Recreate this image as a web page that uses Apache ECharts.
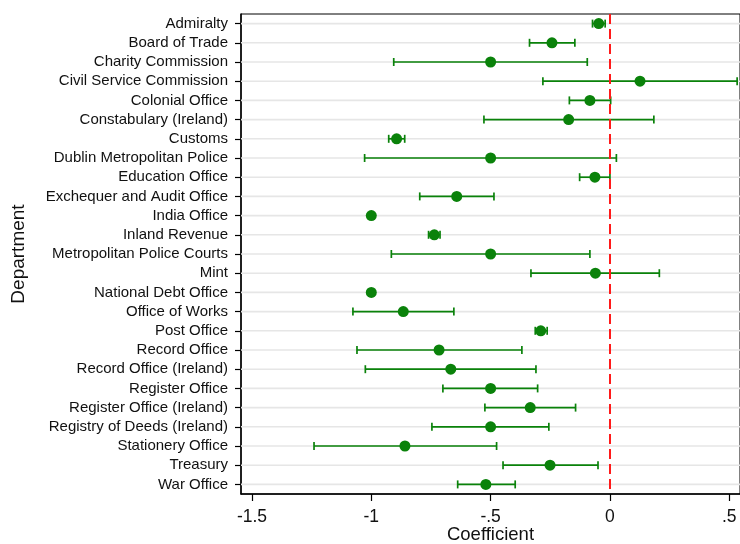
<!DOCTYPE html>
<html>
<head>
<meta charset="utf-8">
<script src="https://cdn.jsdelivr.net/npm/echarts@6/dist/echarts.min.js"></script>
<style>html,body{margin:0;padding:0;background:#fff;}#c{width:740px;height:544px;}</style>
</head>
<body>
<div id="c"></div>
<script>
const departments = ["Admiralty","Board of Trade","Charity Commission","Civil Service Commission","Colonial Office","Constabulary (Ireland)","Customs","Dublin Metropolitan Police","Education Office","Exchequer and Audit Office","India Office","Inland Revenue","Metropolitan Police Courts","Mint","National Debt Office","Office of Works","Post Office","Record Office","Record Office (Ireland)","Register Office","Register Office (Ireland)","Registry of Deeds (Ireland)","Stationery Office","Treasury","War Office"];
const coef   = [-0.047,-0.243,-0.500, 0.126,-0.084,-0.173,-0.894,-0.500,-0.063,-0.642,-1.000,-0.736,-0.500,-0.061,-1.000,-0.866,-0.290,-0.716,-0.667,-0.500,-0.334,-0.500,-0.859,-0.251,-0.520];
const ciLow  = [-0.073,-0.337,-0.906,-0.281,-0.170,-0.528,-0.927,-1.028,-0.127,-0.797, null,-0.760,-0.916,-0.331, null,-1.077,-0.313,-1.060,-1.025,-0.700,-0.524,-0.746,-1.240,-0.448,-0.638];
const ciHigh = [-0.020,-0.147,-0.095, 0.533, 0.003, 0.184,-0.860, 0.027, 0.000,-0.486, null,-0.712,-0.084, 0.207, null,-0.654,-0.263,-0.369,-0.310,-0.303,-0.144,-0.256,-0.475,-0.050,-0.397];
const xTicks = [-1.5,-1,-0.5,0,0.5];

const FONT = '"Liberation Sans", Arial, Helvetica, sans-serif';
const GREEN = '#0a820a';

const chart = echarts.init(document.getElementById('c'), null, {renderer:'canvas'});

const gridData = departments.map((d,i)=>[0,i]);
const ciData = departments.map((d,i)=>[ciLow[i], ciHigh[i], i]);
const dotData = departments.map((d,i)=>[coef[i], i]);

chart.setOption({
  animation:false,
  backgroundColor:'#fff',
  textStyle:{fontFamily:FONT},
  grid:{left:241, top:14, right:0, bottom:50, containLabel:false, outerBoundsMode:'none',
        show:true, borderColor:'#000', borderWidth:1},
  xAxis:{
    type:'value', min:-1.546, max:0.545,
    name:'Coefficient', nameLocation:'middle', nameGap:31, nameMoveOverlap:false,
    nameTextStyle:{fontSize:18.5, color:'#111', fontFamily:FONT},
    axisLine:{show:true, onZero:false, lineStyle:{color:'#000', width:1.5}},
    axisTick:{show:true, length:7, customValues:xTicks, lineStyle:{color:'#000', width:1.2}},
    axisLabel:{customValues:xTicks, fontSize:17.5, color:'#111', margin:14, fontFamily:FONT,
      formatter:v=>{ if (Math.abs(v)<1e-9) return '0'; let s=String(Math.round(v*10)/10); return s.replace('0.','.'); }},
    splitLine:{show:false}
  },
  yAxis:{
    type:'category', data:departments, inverse:true,
    name:'Department', nameLocation:'middle', nameGap:213, nameRotate:90, nameMoveOverlap:false,
    nameTextStyle:{fontSize:19, color:'#111', fontFamily:FONT},
    axisLine:{show:true, onZero:false, lineStyle:{color:'#000', width:1.5}},
    axisTick:{show:true, alignWithLabel:true, interval:0, length:6, lineStyle:{color:'#000', width:1.2}},
    axisLabel:{fontSize:15, color:'#111', margin:13, interval:0, fontFamily:FONT},
    splitLine:{show:false}
  },
  series:[
    {
      type:'custom', z:1, silent:true,
      data:gridData,
      renderItem:(params, api)=>{
        const cs = params.coordSys;
        const y = api.coord([0, api.value(1)])[1];
        return {type:'line', shape:{x1:cs.x, y1:y, x2:cs.x+cs.width, y2:y},
          style:{stroke:'#e6e6e6', lineWidth:1.6}};
      }
    },
    {
      type:'custom', z:3, silent:true,
      data:ciData,
      renderItem:(params, api)=>{
        const lo = api.value(0), hi = api.value(1), idx = api.value(2);
        if (lo === null || hi === null || isNaN(lo) || isNaN(hi)) return null;
        const p1 = api.coord([lo, idx]);
        const p2 = api.coord([hi, idx]);
        const h = 4;
        const st = {stroke:GREEN, lineWidth:1.7};
        return {type:'group', children:[
          {type:'line', shape:{x1:p1[0], y1:p1[1], x2:p2[0], y2:p2[1]}, style:st},
          {type:'line', shape:{x1:p1[0], y1:p1[1]-h, x2:p1[0], y2:p1[1]+h}, style:st},
          {type:'line', shape:{x1:p2[0], y1:p2[1]-h, x2:p2[0], y2:p2[1]+h}, style:st}
        ]};
      },
      markLine:{
        silent:true, symbol:'none', label:{show:false},
        lineStyle:{color:'#ff1a1a', width:2, type:[10,5]},
        data:[{xAxis:0}]
      }
    },
    {
      type:'scatter', z:4, data:dotData, symbol:'circle', symbolSize:11,
      itemStyle:{color:GREEN, opacity:1}, silent:true
    }
  ]
});
</script>
</body>
</html>
